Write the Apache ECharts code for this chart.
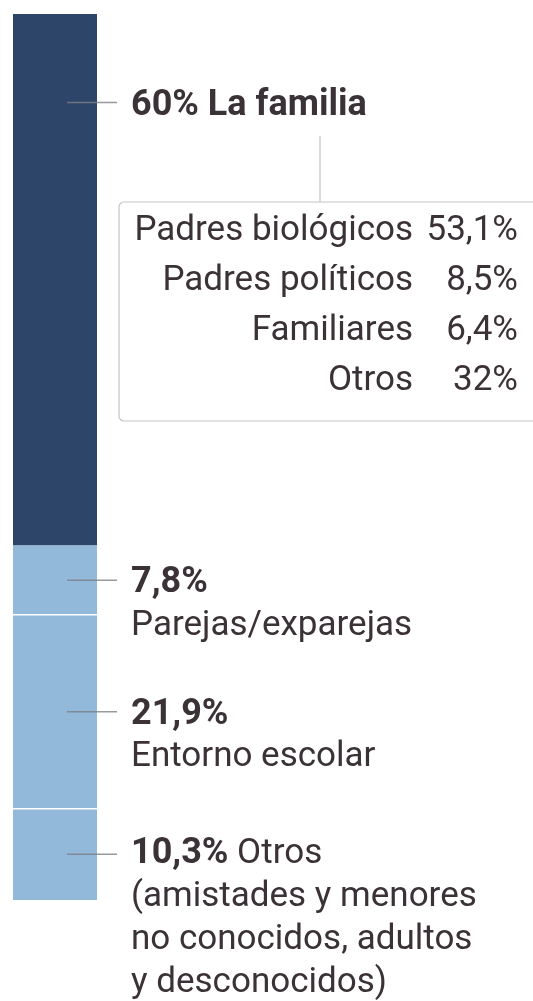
<!DOCTYPE html>
<html>
<head>
<meta charset="utf-8">
<script src="https://cdn.jsdelivr.net/npm/echarts@6/dist/echarts.min.js"></script>
<style>
  html, body { margin: 0; padding: 0; background: #fff; }
  #chart { width: 533px; height: 1001px; }
</style>
</head>
<body>
<div id="chart"></div>
<script>
// share of cases by who the aggressor is
const groups = ['La familia', 'Parejas/exparejas', 'Entorno escolar', 'Otros']
const shares = [60, 7.8, 21.9, 10.3]
const notes = [
  'La familia',
  'Parejas/exparejas',
  'Entorno escolar',
  'Otros\n(amistades y menores\nno conocidos, adultos\ny desconocidos)'
]
// breakdown inside "La familia"
const familyKinds = ['Padres biológicos', 'Padres políticos', 'Familiares', 'Otros']
const familyShares = [53.1, 8.5, 6.4, 32]

const colors = ['#2d4568', '#92b8da', '#92b8da', '#92b8da']
const ink = '#3a3237'
const font = 'Roboto'
const pct = v => String(v).replace('.', ',') + '%'

const chart = echarts.init(document.getElementById('chart'))

chart.setOption({
  animation: false,
  grid: { left: 13, top: 14, width: 84, bottom: 101 },
  xAxis: { type: 'category', data: ['total'], show: false },
  yAxis: { type: 'value', min: 0, max: 100, inverse: true, show: false },
  series: groups.map((g, i) => ({
    name: g,
    type: 'bar',
    stack: 'total',
    barWidth: 84,
    z: 1,
    itemStyle: { color: colors[i] },
    data: [shares[i]]
  }))
})

// pixel helpers through the chart's own axes
const yAt = v => chart.convertToPixel({ gridIndex: 0 }, [0, v])[1]
let acc = 0
const centers = []
const bounds = []
shares.forEach(v => {
  centers.push(yAt(acc + v / 2))
  acc += v
  bounds.push(yAt(acc))
})
// the familia leader sits near the top of its block, not the middle
centers[0] = yAt(10)

const graphic = []
const lineH = 43

centers.forEach((cy, i) => {
  graphic.push({
    type: 'line',
    z: 50,
    shape: { x1: 67, y1: cy, x2: 117, y2: cy },
    style: { stroke: 'rgba(125,128,135,0.8)', lineWidth: 1.5 }
  })
  let txt
  if (i === 0) {
    txt = '{b|' + pct(shares[i]) + ' ' + notes[i] + '}'
  } else if (i === 3) {
    txt = '{b|' + pct(shares[i]) + '}{r| ' + notes[i].split('\n')[0] + '}\n' +
      notes[i].split('\n').slice(1).map(s => '{r|' + s + '}').join('\n')
  } else {
    txt = '{b|' + pct(shares[i]) + '}\n{r|' + notes[i] + '}'
  }
  graphic.push({
    type: 'text',
    z: 50,
    x: 131,
    y: cy - lineH / 2 + (i === 3 ? 0 : 3),
    style: {
      text: txt,
      fill: ink,
      fontFamily: font,
      fontSize: 35,
      lineHeight: lineH,
      verticalAlign: 'top',
      rich: {
        b: { fontWeight: 'bold', fontSize: 36, fontFamily: font, fill: ink, lineHeight: lineH },
        r: { fontWeight: 'normal', fontSize: 35, fontFamily: font, fill: ink, lineHeight: lineH }
      }
    }
  })
})

// white separators between the light segments
bounds.slice(1, 3).forEach(by => {
  graphic.push({
    type: 'line',
    z: 40,
    shape: { x1: 13, y1: by, x2: 97, y2: by },
    style: { stroke: '#ffffff', lineWidth: 1.5 }
  })
})

// breakdown box
graphic.push({
  type: 'line',
  z: 50,
  shape: { x1: 320, y1: 136, x2: 320, y2: 202 },
  style: { stroke: '#c4c4c4', lineWidth: 1.2 }
})
graphic.push({
  type: 'rect',
  z: 50,
  shape: { x: 119, y: 202, width: 440, height: 219, r: 5 },
  style: { fill: 'none', stroke: '#c4c4c4', lineWidth: 1.2 }
})
familyKinds.forEach((k, i) => {
  const cy = 231 + i * 50
  graphic.push({
    type: 'text',
    z: 50,
    x: 413,
    y: cy,
    style: { text: k, fill: ink, fontFamily: font, fontSize: 35, align: 'right', verticalAlign: 'middle' }
  })
  graphic.push({
    type: 'text',
    z: 50,
    x: 518,
    y: cy,
    style: { text: pct(familyShares[i]), fill: ink, fontFamily: font, fontSize: 35, align: 'right', verticalAlign: 'middle' }
  })
})

chart.setOption({ graphic: graphic })
</script>
</body>
</html>
